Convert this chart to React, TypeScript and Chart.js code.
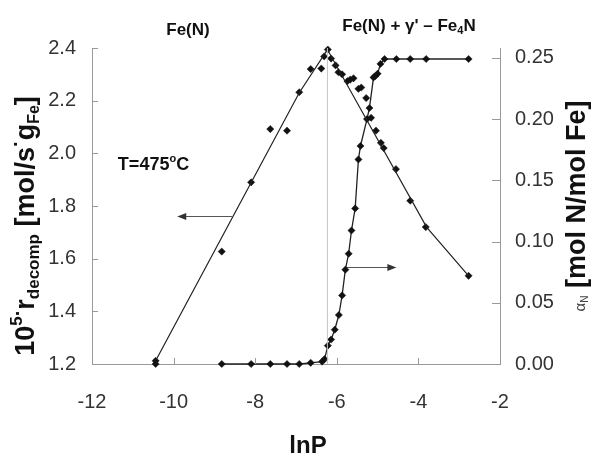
import { useEffect, useRef } from 'react';
import { Chart, registerables } from 'chart.js';
Chart.register(...registerables);

// r_decomp measurements (left axis)
const rLnP = [-10.44, -10.44, -8.82, -8.1, -7.63, -7.22, -6.92, -6.64, -6.38, -6.31, -6.22, -6.14, -6.03, -5.96, -5.87, -5.74, -5.67, -5.59, -5.47, -5.4, -5.28, -5.16, -5.04, -4.92, -4.85, -4.55, -4.2, -3.82, -2.77];
const rValues = [1.2, 1.212, 1.627, 1.89, 2.092, 2.086, 2.232, 2.32, 2.322, 2.368, 2.394, 2.36, 2.334, 2.308, 2.3, 2.274, 2.28, 2.285, 2.245, 2.25, 2.21, 2.135, 2.086, 2.04, 2.02, 1.94, 1.82, 1.72, 1.535];

// fitted trend line for r_decomp
const rFitLnP = [-10.43, -6.92, -6.23, -3.8, -2.77];
const rFitValues = [1.215, 2.23, 2.394, 1.72, 1.535];

// alpha_N measurements (right axis)
const alphaLnP = [-8.82, -8.1, -7.63, -7.22, -6.92, -6.64, -6.36, -6.3, -6.22, -6.14, -6.05, -5.95, -5.87, -5.79, -5.71, -5.64, -5.55, -5.47, -5.42, -5.26, -5.2, -5.1, -5.06, -5.0, -4.93, -4.83, -4.54, -4.2, -3.81, -2.77];
const alphaValues = [0, 0, 0, 0, 0, 0.001, 0.002, 0.004, 0.015, 0.02, 0.028, 0.04, 0.056, 0.077, 0.09, 0.109, 0.127, 0.167, 0.178, 0.2, 0.209, 0.234, 0.235, 0.237, 0.245, 0.249, 0.249, 0.249, 0.249, 0.249];

const peakLnP = -6.23;

const xTicks = [-12, -10, -8, -6, -4, -2];
const leftTicks = [1.2, 1.4, 1.6, 1.8, 2.0, 2.2, 2.4];
const rightTicks = [0, 0.05, 0.1, 0.15, 0.2, 0.25];

// annotation arrows: [tailX, headX, y]
const leftArrow = [-8.56, -9.91, 1.763];
const rightArrow = [-5.75, -4.54, 0.0795];

const FF = '"Liberation Sans", Arial, Helvetica, sans-serif';

type Run = { t: string; font: string; dy?: number; color?: string };

function drawRuns(ctx: CanvasRenderingContext2D, runs: Run[], cx: number, cy: number, angle: number) {
  ctx.save();
  ctx.translate(cx, cy);
  ctx.rotate(angle);
  ctx.textAlign = 'left';
  ctx.textBaseline = 'alphabetic';
  const widths = runs.map((r) => {
    ctx.font = r.font;
    return ctx.measureText(r.t).width;
  });
  const total = widths.reduce((a, b) => a + b, 0);
  let x = -total / 2;
  runs.forEach((r, i) => {
    ctx.font = r.font;
    ctx.fillStyle = r.color || '#111';
    ctx.fillText(r.t, x, r.dy || 0);
    x += widths[i];
  });
  ctx.restore();
}

function arrow(ctx: CanvasRenderingContext2D, x1: number, y: number, x2: number) {
  const dir = Math.sign(x2 - x1);
  ctx.beginPath();
  ctx.moveTo(x1, y);
  ctx.lineTo(x2 - dir * 8, y);
  ctx.stroke();
  ctx.beginPath();
  ctx.moveTo(x2, y);
  ctx.lineTo(x2 - dir * 9, y - 3.5);
  ctx.lineTo(x2 - dir * 9, y + 3.5);
  ctx.closePath();
  ctx.fill();
}

const decor = {
  id: 'decor',
  afterDraw(chart: any) {
    const ctx: CanvasRenderingContext2D = chart.ctx;
    const xs = chart.scales.x;
    const yl = chart.scales.y;
    const yr = chart.scales.y1;
    const { left, right, top, bottom } = chart.chartArea;
    ctx.save();
    // inward tick marks
    ctx.strokeStyle = '#999';
    ctx.lineWidth = 1;
    ctx.beginPath();
    xTicks.forEach((v) => {
      const px = Math.round(xs.getPixelForValue(v)) + 0.5;
      ctx.moveTo(px, bottom);
      ctx.lineTo(px, bottom - 6);
    });
    leftTicks.forEach((v) => {
      const py = Math.round(yl.getPixelForValue(v)) + 0.5;
      ctx.moveTo(left, py);
      ctx.lineTo(left + 6, py);
    });
    rightTicks.forEach((v) => {
      const py = Math.round(yr.getPixelForValue(v)) + 0.5;
      ctx.moveTo(right, py);
      ctx.lineTo(right - 8, py);
    });
    ctx.stroke();

    // arrows
    ctx.strokeStyle = '#555';
    ctx.fillStyle = '#333';
    ctx.lineWidth = 1;
    arrow(ctx, xs.getPixelForValue(leftArrow[0]), Math.round(yl.getPixelForValue(leftArrow[2])) + 0.5, xs.getPixelForValue(leftArrow[1]));
    arrow(ctx, xs.getPixelForValue(rightArrow[0]), Math.round(yr.getPixelForValue(rightArrow[2])) + 0.5, xs.getPixelForValue(rightArrow[1]));

    // texts
    drawRuns(ctx, [{ t: 'Fe(N)', font: `bold 17px ${FF}` }], 188, 35, 0);
    drawRuns(
      ctx,
      [
        { t: "Fe(N) + ", font: `bold 17px ${FF}` },
        { t: 'γ', font: `bold 17px ${FF}` },
        { t: "' \u2013 Fe", font: `bold 17px ${FF}` },
        { t: '4', font: `bold 11px ${FF}`, dy: 3 },
        { t: 'N', font: `bold 17px ${FF}` },
      ],
      409,
      31,
      0
    );
    drawRuns(
      ctx,
      [
        { t: 'T=475', font: `bold 18px ${FF}` },
        { t: 'o', font: `bold 11px ${FF}`, dy: -8 },
        { t: 'C', font: `bold 18px ${FF}` },
      ],
      153.5,
      170,
      0
    );
    drawRuns(ctx, [{ t: 'lnP', font: `bold 24px ${FF}` }], 308, 453, 0);

    drawRuns(
      ctx,
      [
        { t: '10', font: `bold 27px ${FF}` },
        { t: '5', font: `bold 17px ${FF}`, dy: -12 },
        { t: '·', font: `bold 20px ${FF}`, dy: -10 },
        { t: 'r', font: `bold 27px ${FF}` },
        { t: 'decomp', font: `bold 17px ${FF}`, dy: 5 },
        { t: ' [mol/s', font: `bold 27px ${FF}` },
        { t: '·', font: `bold 20px ${FF}`, dy: -12 },
        { t: 'g', font: `bold 27px ${FF}` },
        { t: 'Fe', font: `bold 16px ${FF}`, dy: 5 },
        { t: ']', font: `bold 27px ${FF}` },
      ],
      33.5,
      226,
      -Math.PI / 2
    );
    drawRuns(
      ctx,
      [
        { t: 'α', font: `15px ${FF}`, color: '#444' },
        { t: 'N', font: `10px ${FF}`, dy: 3, color: '#444' },
        { t: ' [mol N/mol Fe]', font: `bold 27px ${FF}` },
      ],
      585,
      206,
      -Math.PI / 2
    );
    ctx.restore();
  },
};

export default function App() {
  const ref = useRef<HTMLCanvasElement>(null);
  useEffect(() => {
    const canvas = ref.current;
    if (!canvas) return;
    const tickFont = { family: FF, size: 20 };
    const marker = {
      pointStyle: 'rectRot',
      pointRadius: 3.6,
      pointBackgroundColor: '#111',
      pointBorderColor: '#111',
      pointBorderWidth: 0.5,
    };
    const chart = new Chart(canvas, {
      type: 'scatter',
      data: {
        datasets: [
          {
            label: 'peak',
            data: [
              { x: peakLnP, y: leftTicks[0] },
              { x: peakLnP, y: leftTicks[leftTicks.length - 1] },
            ],
            showLine: true,
            borderColor: '#c4c4c4',
            borderWidth: 1,
            pointRadius: 0,
            yAxisID: 'y',
            clip: false,
          },
          {
            label: 'fit',
            data: rFitLnP.map((x, i) => ({ x, y: rFitValues[i] })),
            showLine: true,
            borderColor: '#222',
            borderWidth: 1.2,
            pointRadius: 0,
            yAxisID: 'y',
            clip: false,
          },
          {
            label: 'r',
            data: rLnP.map((x, i) => ({ x, y: rValues[i] })),
            showLine: false,
            ...marker,
            yAxisID: 'y',
            clip: false,
          },
          {
            label: 'alpha',
            data: alphaLnP.map((x, i) => ({ x, y: alphaValues[i] })),
            showLine: true,
            borderColor: '#222',
            borderWidth: 1.3,
            ...marker,
            yAxisID: 'y1',
            clip: false,
          },
        ] as any,
      },
      options: {
        animation: false,
        responsive: false,
        layout: { padding: { top: 48, left: 0, right: 0, bottom: 0 } },
        plugins: { legend: { display: false }, tooltip: { enabled: false } },
        scales: {
          x: {
            type: 'linear',
            min: -12,
            max: -2,
            afterBuildTicks: (s: any) => {
              s.ticks = xTicks.map((v) => ({ value: v }));
            },
            afterFit: (s: any) => {
              s.height = 94;
            },
            grid: { display: false, drawTicks: false },
            border: { display: true, color: '#999', width: 1 },
            ticks: { font: tickFont, color: '#333', padding: 26, maxRotation: 0 },
          },
          y: {
            type: 'linear',
            position: 'left',
            min: 1.2,
            max: 2.4,
            afterBuildTicks: (s: any) => {
              s.ticks = leftTicks.map((v) => ({ value: v }));
            },
            afterFit: (s: any) => {
              s.width = 92;
            },
            grid: { display: false, drawTicks: false },
            border: { display: true, color: '#999', width: 1 },
            ticks: { font: tickFont, color: '#333', padding: 16, callback: (v: any) => Number(v).toFixed(1) },
          },
          y1: {
            type: 'linear',
            position: 'right',
            min: 0,
            max: 0.258,
            afterBuildTicks: (s: any) => {
              s.ticks = rightTicks.map((v) => ({ value: v }));
            },
            afterFit: (s: any) => {
              s.width = 91;
            },
            grid: { display: false, drawTicks: false },
            border: { display: true, color: '#999', width: 1 },
            ticks: { font: tickFont, color: '#333', padding: 15, callback: (v: any) => Number(v).toFixed(2) },
          },
        },
      } as any,
      plugins: [decor],
    });
    return () => chart.destroy();
  }, []);
  return (
    <div style={{ position: 'fixed', left: 0, top: 0, width: 591, height: 458, background: '#fff' }}>
      <canvas ref={ref} width={591} height={458} style={{ display: 'block', width: 591, height: 458 }} />
    </div>
  );
}
